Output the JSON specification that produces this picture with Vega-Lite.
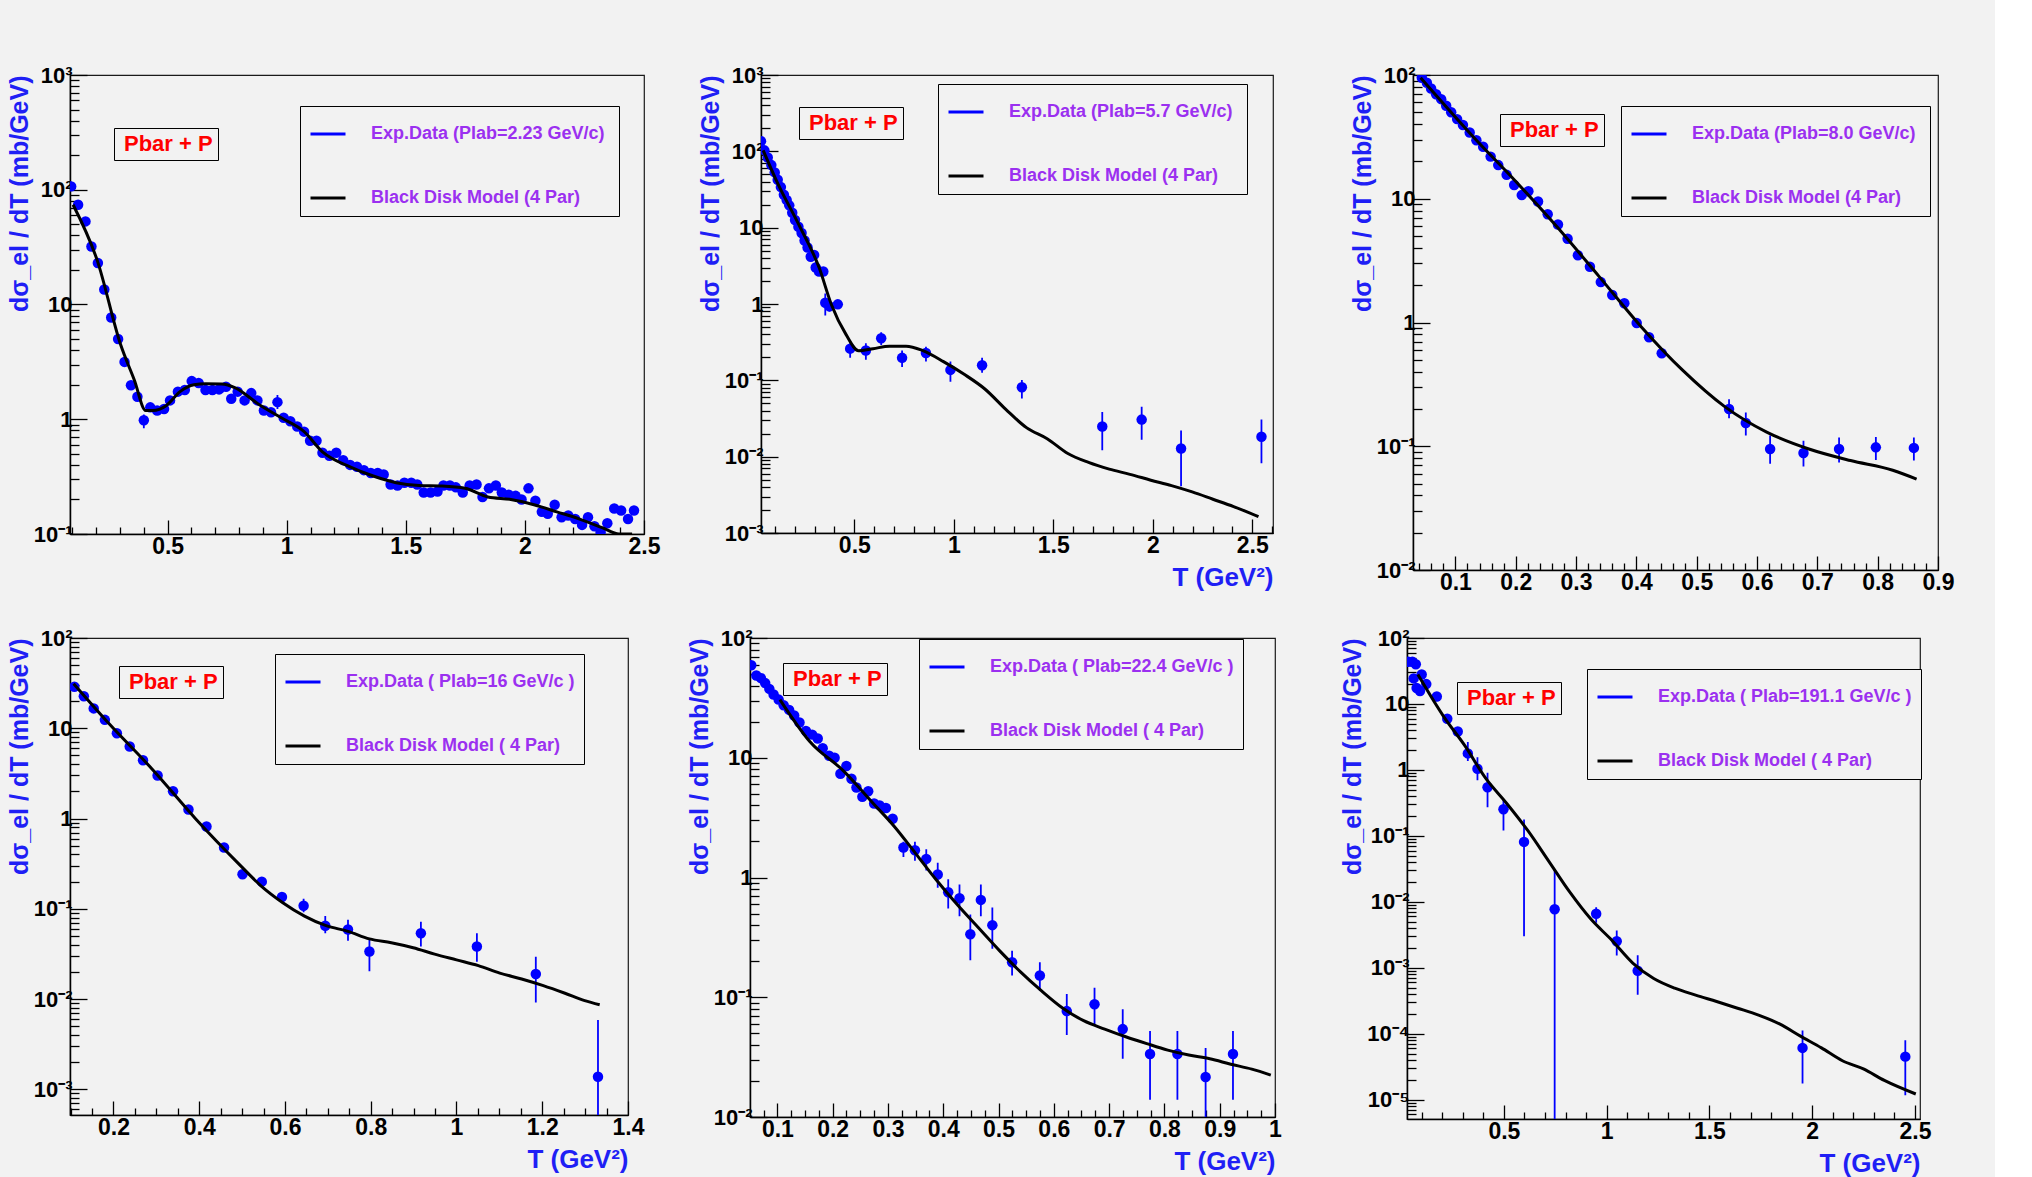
{
"$schema": "https://vega.github.io/schema/vega-lite/v6.json",
"background": "#f2f2f2",
"padding": {"left": 6, "top": 63, "right": 40, "bottom": 6},
"spacing": 24,
"resolve": {"scale": {"color": "independent", "strokeDash": "independent"}},
"datasets": {
"pts": [
{"p":1,"T":0.095,"v":107},{"p":1,"T":0.124,"v":74},{"p":1,"T":0.155,"v":53},{"p":1,"T":0.18,"v":32},{"p":1,"T":0.207,"v":23},{"p":1,"T":0.234,"v":13.5},{"p":1,"T":0.263,"v":7.7},{"p":1,"T":0.292,"v":5.0},{"p":1,"T":0.319,"v":3.16},{"p":1,"T":0.346,"v":1.98},{"p":1,"T":0.373,"v":1.57},{"p":1,"T":0.4,"v":0.98,"lo":0.835,"hi":1.1},{"p":1,"T":0.427,"v":1.27},{"p":1,"T":0.456,"v":1.19},{"p":1,"T":0.485,"v":1.23},{"p":1,"T":0.51,"v":1.46},{"p":1,"T":0.543,"v":1.74},{"p":1,"T":0.572,"v":1.8},{"p":1,"T":0.601,"v":2.15},{"p":1,"T":0.63,"v":2.07},{"p":1,"T":0.659,"v":1.8},{"p":1,"T":0.688,"v":1.8},{"p":1,"T":0.716,"v":1.82},{"p":1,"T":0.745,"v":1.92},{"p":1,"T":0.767,"v":1.51},{"p":1,"T":0.794,"v":1.74},{"p":1,"T":0.823,"v":1.46},{"p":1,"T":0.851,"v":1.69},{"p":1,"T":0.877,"v":1.46},{"p":1,"T":0.904,"v":1.19},{"p":1,"T":0.934,"v":1.15},{"p":1,"T":0.961,"v":1.41,"lo":1.23,"hi":1.63},{"p":1,"T":0.987,"v":1.03},{"p":1,"T":1.015,"v":0.96},{"p":1,"T":1.044,"v":0.865},{"p":1,"T":1.073,"v":0.78},{"p":1,"T":1.098,"v":0.65},{"p":1,"T":1.125,"v":0.65},{"p":1,"T":1.15,"v":0.51},{"p":1,"T":1.179,"v":0.48},{"p":1,"T":1.208,"v":0.51},{"p":1,"T":1.237,"v":0.44},{"p":1,"T":1.266,"v":0.4},{"p":1,"T":1.295,"v":0.385},{"p":1,"T":1.324,"v":0.36},{"p":1,"T":1.353,"v":0.34},{"p":1,"T":1.382,"v":0.34},{"p":1,"T":1.407,"v":0.33},{"p":1,"T":1.436,"v":0.27},{"p":1,"T":1.465,"v":0.265},{"p":1,"T":1.494,"v":0.28},{"p":1,"T":1.523,"v":0.28},{"p":1,"T":1.548,"v":0.27},{"p":1,"T":1.575,"v":0.23},{"p":1,"T":1.604,"v":0.23},{"p":1,"T":1.633,"v":0.235},{"p":1,"T":1.658,"v":0.265},{"p":1,"T":1.685,"v":0.265},{"p":1,"T":1.71,"v":0.255},{"p":1,"T":1.739,"v":0.23},{"p":1,"T":1.768,"v":0.265},{"p":1,"T":1.797,"v":0.27},{"p":1,"T":1.822,"v":0.21},{"p":1,"T":1.849,"v":0.25},{"p":1,"T":1.878,"v":0.265},{"p":1,"T":1.903,"v":0.23},{"p":1,"T":1.932,"v":0.22},{"p":1,"T":1.961,"v":0.215},{"p":1,"T":1.986,"v":0.2},{"p":1,"T":2.015,"v":0.25},{"p":1,"T":2.044,"v":0.195},{"p":1,"T":2.071,"v":0.156},{"p":1,"T":2.096,"v":0.15},{"p":1,"T":2.125,"v":0.18},{"p":1,"T":2.154,"v":0.14},{"p":1,"T":2.182,"v":0.145},{"p":1,"T":2.211,"v":0.135},{"p":1,"T":2.24,"v":0.12},{"p":1,"T":2.265,"v":0.14},{"p":1,"T":2.292,"v":0.117},{"p":1,"T":2.318,"v":0.104},{"p":1,"T":2.346,"v":0.124},{"p":1,"T":2.375,"v":0.167},{"p":1,"T":2.404,"v":0.16},{"p":1,"T":2.433,"v":0.135},{"p":1,"T":2.458,"v":0.16},
{"p":2,"T":0.031,"v":136},{"p":2,"T":0.048,"v":103},{"p":2,"T":0.065,"v":83},{"p":2,"T":0.083,"v":66},{"p":2,"T":0.1,"v":53},{"p":2,"T":0.115,"v":42.5},{"p":2,"T":0.131,"v":34},{"p":2,"T":0.146,"v":27},{"p":2,"T":0.16,"v":23},{"p":2,"T":0.173,"v":19.6},{"p":2,"T":0.188,"v":15.7},{"p":2,"T":0.202,"v":12.6},{"p":2,"T":0.219,"v":10.3},{"p":2,"T":0.235,"v":8.5},{"p":2,"T":0.25,"v":6.8},{"p":2,"T":0.265,"v":5.5},{"p":2,"T":0.281,"v":4.15},{"p":2,"T":0.298,"v":4.4},{"p":2,"T":0.306,"v":3.0,"lo":2.4,"hi":3.6},{"p":2,"T":0.323,"v":2.66},{"p":2,"T":0.344,"v":2.66},{"p":2,"T":0.354,"v":1.04,"lo":0.705,"hi":1.37},{"p":2,"T":0.375,"v":0.93,"lo":0.8,"hi":1.08},{"p":2,"T":0.417,"v":0.99},{"p":2,"T":0.479,"v":0.26,"lo":0.197,"hi":0.307},{"p":2,"T":0.558,"v":0.246,"lo":0.186,"hi":0.307},{"p":2,"T":0.635,"v":0.355,"lo":0.29,"hi":0.428},{"p":2,"T":0.74,"v":0.197,"lo":0.149,"hi":0.246},{"p":2,"T":0.86,"v":0.228,"lo":0.176,"hi":0.275},{"p":2,"T":0.983,"v":0.137,"lo":0.096,"hi":0.176},{"p":2,"T":1.142,"v":0.158,"lo":0.126,"hi":0.197},{"p":2,"T":1.342,"v":0.081,"lo":0.058,"hi":0.101},{"p":2,"T":1.746,"v":0.0248,"lo":0.0121,"hi":0.0386},{"p":2,"T":1.944,"v":0.0306,"lo":0.0166,"hi":0.045},{"p":2,"T":2.142,"v":0.0128,"lo":0.0041,"hi":0.022},{"p":2,"T":2.546,"v":0.0182,"lo":0.0082,"hi":0.0306},
{"p":3,"T":0.0443,"v":95},{"p":3,"T":0.0527,"v":86.7},{"p":3,"T":0.0597,"v":77.8},{"p":3,"T":0.068,"v":70},{"p":3,"T":0.0764,"v":63.8},{"p":3,"T":0.0847,"v":56.5},{"p":3,"T":0.093,"v":50},{"p":3,"T":0.1028,"v":44},{"p":3,"T":0.1125,"v":39.5},{"p":3,"T":0.1237,"v":34.3},{"p":3,"T":0.1348,"v":29.7},{"p":3,"T":0.146,"v":26.3},{"p":3,"T":0.1584,"v":21.9},{"p":3,"T":0.171,"v":18.7},{"p":3,"T":0.1849,"v":15.6},{"p":3,"T":0.1974,"v":12.9},{"p":3,"T":0.21,"v":10.7},{"p":3,"T":0.221,"v":11.5},{"p":3,"T":0.237,"v":9.5},{"p":3,"T":0.253,"v":7.5},{"p":3,"T":0.27,"v":6.2},{"p":3,"T":0.286,"v":4.75},{"p":3,"T":0.303,"v":3.49},{"p":3,"T":0.323,"v":2.82},{"p":3,"T":0.341,"v":2.12},{"p":3,"T":0.36,"v":1.67},{"p":3,"T":0.38,"v":1.43},{"p":3,"T":0.4005,"v":0.99},{"p":3,"T":0.421,"v":0.76},{"p":3,"T":0.442,"v":0.565},{"p":3,"T":0.5536,"v":0.2,"lo":0.168,"hi":0.24},{"p":3,"T":0.5814,"v":0.154,"lo":0.122,"hi":0.187},{"p":3,"T":0.6217,"v":0.095,"lo":0.0723,"hi":0.122},{"p":3,"T":0.677,"v":0.0883,"lo":0.0687,"hi":0.111},{"p":3,"T":0.736,"v":0.095,"lo":0.0738,"hi":0.1175},{"p":3,"T":0.797,"v":0.098,"lo":0.0776,"hi":0.119},{"p":3,"T":0.86,"v":0.097,"lo":0.0766,"hi":0.1175},
{"p":4,"T":0.1089,"v":28.8},{"p":4,"T":0.131,"v":22.6},{"p":4,"T":0.154,"v":16.6},{"p":4,"T":0.18,"v":12.4},{"p":4,"T":0.208,"v":8.8},{"p":4,"T":0.238,"v":6.27},{"p":4,"T":0.269,"v":4.42},{"p":4,"T":0.303,"v":3.0},{"p":4,"T":0.339,"v":2.01},{"p":4,"T":0.375,"v":1.26},{"p":4,"T":0.417,"v":0.815},{"p":4,"T":0.458,"v":0.477},{"p":4,"T":0.501,"v":0.242},{"p":4,"T":0.546,"v":0.2},{"p":4,"T":0.593,"v":0.135},{"p":4,"T":0.6435,"v":0.108,"lo":0.0916,"hi":0.129},{"p":4,"T":0.694,"v":0.065,"lo":0.0537,"hi":0.083},{"p":4,"T":0.747,"v":0.059,"lo":0.0443,"hi":0.0755},{"p":4,"T":0.797,"v":0.0337,"lo":0.0203,"hi":0.0465},{"p":4,"T":0.917,"v":0.0537,"lo":0.0382,"hi":0.072},{"p":4,"T":1.0476,"v":0.0382,"lo":0.026,"hi":0.0537},{"p":4,"T":1.185,"v":0.019,"lo":0.00916,"hi":0.0294},{"p":4,"T":1.33,"v":0.00138,"lo":0.0001,"hi":0.00586},
{"p":5,"T":0.0528,"v":59.3},{"p":5,"T":0.062,"v":48.6},{"p":5,"T":0.0703,"v":46.2},{"p":5,"T":0.078,"v":42},{"p":5,"T":0.0855,"v":37.6},{"p":5,"T":0.0932,"v":33.7},{"p":5,"T":0.1023,"v":30.6},{"p":5,"T":0.1114,"v":27.4},{"p":5,"T":0.1213,"v":25.1},{"p":5,"T":0.1304,"v":22.5},{"p":5,"T":0.14,"v":19.7},{"p":5,"T":0.1517,"v":16.7},{"p":5,"T":0.163,"v":15.6},{"p":5,"T":0.173,"v":14.5},{"p":5,"T":0.182,"v":12},{"p":5,"T":0.1936,"v":10.4},{"p":5,"T":0.2035,"v":10},{"p":5,"T":0.214,"v":7.36},{"p":5,"T":0.2248,"v":8.53},{"p":5,"T":0.234,"v":6.68},{"p":5,"T":0.243,"v":5.65},{"p":5,"T":0.2537,"v":4.73},{"p":5,"T":0.2643,"v":5.25},{"p":5,"T":0.275,"v":4.15},{"p":5,"T":0.285,"v":4},{"p":5,"T":0.2963,"v":3.8},{"p":5,"T":0.3085,"v":3.09},{"p":5,"T":0.328,"v":1.78,"lo":1.48,"hi":1.99},{"p":5,"T":0.3488,"v":1.69,"lo":1.38,"hi":1.99},{"p":5,"T":0.3693,"v":1.43,"lo":1.146,"hi":1.72},{"p":5,"T":0.39,"v":1.06,"lo":0.822,"hi":1.33},{"p":5,"T":0.409,"v":0.753,"lo":0.55,"hi":0.968},{"p":5,"T":0.4294,"v":0.67,"lo":0.474,"hi":0.873},{"p":5,"T":0.449,"v":0.336,"lo":0.204,"hi":0.492},{"p":5,"T":0.468,"v":0.65,"lo":0.474,"hi":0.873},{"p":5,"T":0.4888,"v":0.4,"lo":0.254,"hi":0.562},{"p":5,"T":0.5245,"v":0.196,"lo":0.152,"hi":0.245},{"p":5,"T":0.5747,"v":0.152,"lo":0.113,"hi":0.196},{"p":5,"T":0.6234,"v":0.0766,"lo":0.0485,"hi":0.1067},{"p":5,"T":0.6736,"v":0.0875,"lo":0.0575,"hi":0.12},{"p":5,"T":0.7246,"v":0.0542,"lo":0.0306,"hi":0.0794},{"p":5,"T":0.774,"v":0.0336,"lo":0.0139,"hi":0.0523},{"p":5,"T":0.8235,"v":0.0336,"lo":0.0139,"hi":0.0523},{"p":5,"T":0.8745,"v":0.0216,"lo":0.009,"hi":0.0376},{"p":5,"T":0.924,"v":0.0336,"lo":0.0139,"hi":0.0523},
{"p":6,"T":0.0347,"v":43.5},{"p":6,"T":0.0551,"v":43.5},{"p":6,"T":0.0714,"v":40},{"p":6,"T":0.061,"v":24.4},{"p":6,"T":0.0755,"v":17.5},{"p":6,"T":0.0918,"v":15.7},{"p":6,"T":0.1,"v":27.9},{"p":6,"T":0.1224,"v":20},{"p":6,"T":0.1735,"v":13,"lo":11,"hi":15},{"p":6,"T":0.2245,"v":5.96},{"p":6,"T":0.2755,"v":3.83},{"p":6,"T":0.3245,"v":1.78,"lo":1.36,"hi":2.66},{"p":6,"T":0.3714,"v":1.04,"lo":0.695,"hi":1.56},{"p":6,"T":0.4204,"v":0.546,"lo":0.271,"hi":0.908},{"p":6,"T":0.498,"v":0.254,"lo":0.121,"hi":0.355},{"p":6,"T":0.598,"v":0.081,"lo":0.003,"hi":0.177},{"p":6,"T":0.747,"v":0.0077,"lo":0.000001,"hi":0.0316},{"p":6,"T":0.949,"v":0.00658,"lo":0.00482,"hi":0.00826},{"p":6,"T":1.049,"v":0.00253,"lo":0.00154,"hi":0.00369},{"p":6,"T":1.151,"v":0.0009,"lo":0.00039,"hi":0.00155},{"p":6,"T":1.953,"v":0.000061,"lo":0.0000176,"hi":0.000112},{"p":6,"T":2.453,"v":0.000045,"lo":0.0000117,"hi":0.00008}
],
"mod": [
{"p":1,"T":0.103,"v":74},{"p":1,"T":0.205,"v":24},{"p":1,"T":0.302,"v":4.5},{"p":1,"T":0.36,"v":2.2},{"p":1,"T":0.408,"v":1.19},{"p":1,"T":0.437,"v":1.19},{"p":1,"T":0.495,"v":1.32},{"p":1,"T":0.552,"v":1.74},{"p":1,"T":0.61,"v":2.0},{"p":1,"T":0.66,"v":2.04},{"p":1,"T":0.726,"v":2.03},{"p":1,"T":0.784,"v":1.88},{"p":1,"T":0.88,"v":1.36},{"p":1,"T":0.977,"v":1.03},{"p":1,"T":1.073,"v":0.78},{"p":1,"T":1.15,"v":0.52},{"p":1,"T":1.266,"v":0.385},{"p":1,"T":1.363,"v":0.32},{"p":1,"T":1.459,"v":0.28},{"p":1,"T":1.556,"v":0.265},{"p":1,"T":1.652,"v":0.262},{"p":1,"T":1.749,"v":0.25},{"p":1,"T":1.845,"v":0.21},{"p":1,"T":1.941,"v":0.2},{"p":1,"T":2.038,"v":0.18},{"p":1,"T":2.134,"v":0.156},{"p":1,"T":2.23,"v":0.135},{"p":1,"T":2.327,"v":0.113},{"p":1,"T":2.395,"v":0.1},{"p":1,"T":2.45,"v":0.1},
{"p":2,"T":0.042,"v":103},{"p":2,"T":0.115,"v":38},{"p":2,"T":0.219,"v":11.2},{"p":2,"T":0.323,"v":3.0},{"p":2,"T":0.385,"v":0.98},{"p":2,"T":0.458,"v":0.4},{"p":2,"T":0.521,"v":0.245},{"p":2,"T":0.594,"v":0.26},{"p":2,"T":0.677,"v":0.28},{"p":2,"T":0.76,"v":0.28},{"p":2,"T":0.844,"v":0.245},{"p":2,"T":0.948,"v":0.176},{"p":2,"T":1.052,"v":0.12},{"p":2,"T":1.156,"v":0.077},{"p":2,"T":1.26,"v":0.042},{"p":2,"T":1.365,"v":0.024},{"p":2,"T":1.469,"v":0.0172},{"p":2,"T":1.573,"v":0.011},{"p":2,"T":1.677,"v":0.0084},{"p":2,"T":1.781,"v":0.00686},{"p":2,"T":1.885,"v":0.00587},{"p":2,"T":1.99,"v":0.00492},{"p":2,"T":2.094,"v":0.00417},{"p":2,"T":2.198,"v":0.00345},{"p":2,"T":2.302,"v":0.00277},{"p":2,"T":2.406,"v":0.00222},{"p":2,"T":2.531,"v":0.00164},
{"p":3,"T":0.0423,"v":95},{"p":3,"T":0.129,"v":31.9},{"p":3,"T":0.199,"v":14},{"p":3,"T":0.268,"v":5.96},{"p":3,"T":0.338,"v":2.36},{"p":3,"T":0.4075,"v":0.93},{"p":3,"T":0.477,"v":0.41},{"p":3,"T":0.547,"v":0.208},{"p":3,"T":0.616,"v":0.13},{"p":3,"T":0.686,"v":0.095},{"p":3,"T":0.755,"v":0.0766},{"p":3,"T":0.825,"v":0.064},{"p":3,"T":0.8645,"v":0.0543},
{"p":4,"T":0.107,"v":31.2},{"p":4,"T":0.19,"v":11.2},{"p":4,"T":0.291,"v":3.5},{"p":4,"T":0.392,"v":0.99},{"p":4,"T":0.494,"v":0.309},{"p":4,"T":0.544,"v":0.18},{"p":4,"T":0.595,"v":0.117},{"p":4,"T":0.6456,"v":0.083},{"p":4,"T":0.696,"v":0.065},{"p":4,"T":0.747,"v":0.0563},{"p":4,"T":0.797,"v":0.0464},{"p":4,"T":0.848,"v":0.042},{"p":4,"T":0.899,"v":0.037},{"p":4,"T":0.949,"v":0.0315},{"p":4,"T":1.0,"v":0.0272},{"p":4,"T":1.051,"v":0.0235},{"p":4,"T":1.101,"v":0.0194},{"p":4,"T":1.152,"v":0.0167},{"p":4,"T":1.2025,"v":0.0141},{"p":4,"T":1.253,"v":0.0116},{"p":4,"T":1.299,"v":0.0096},{"p":4,"T":1.334,"v":0.00865},
{"p":5,"T":0.1046,"v":30.6},{"p":5,"T":0.159,"v":13.6},{"p":5,"T":0.22,"v":7.74},{"p":5,"T":0.2735,"v":4.15},{"p":5,"T":0.3115,"v":2.67},{"p":5,"T":0.3495,"v":1.6},{"p":5,"T":0.3876,"v":0.953},{"p":5,"T":0.4256,"v":0.591},{"p":5,"T":0.4637,"v":0.38},{"p":5,"T":0.5017,"v":0.245},{"p":5,"T":0.5397,"v":0.163},{"p":5,"T":0.5778,"v":0.113},{"p":5,"T":0.6158,"v":0.0813},{"p":5,"T":0.6539,"v":0.0637},{"p":5,"T":0.692,"v":0.0542},{"p":5,"T":0.73,"v":0.0468},{"p":5,"T":0.768,"v":0.041},{"p":5,"T":0.806,"v":0.0362},{"p":5,"T":0.844,"v":0.0329},{"p":5,"T":0.882,"v":0.0306},{"p":5,"T":0.92,"v":0.0276},{"p":5,"T":0.958,"v":0.0251},{"p":5,"T":0.9924,"v":0.0224},
{"p":6,"T":0.0816,"v":27.9},{"p":6,"T":0.208,"v":6.37},{"p":6,"T":0.31,"v":2.33},{"p":6,"T":0.412,"v":0.743},{"p":6,"T":0.514,"v":0.31},{"p":6,"T":0.616,"v":0.121},{"p":6,"T":0.718,"v":0.0414},{"p":6,"T":0.82,"v":0.0141},{"p":6,"T":0.922,"v":0.00552},{"p":6,"T":1.024,"v":0.00264},{"p":6,"T":1.127,"v":0.00118},{"p":6,"T":1.229,"v":0.000689},{"p":6,"T":1.331,"v":0.000492},{"p":6,"T":1.433,"v":0.000386},{"p":6,"T":1.535,"v":0.000308},{"p":6,"T":1.637,"v":0.000244},{"p":6,"T":1.739,"v":0.000192},{"p":6,"T":1.841,"v":0.000141},{"p":6,"T":1.943,"v":0.000092},{"p":6,"T":2.045,"v":0.000061},{"p":6,"T":2.147,"v":0.000039},{"p":6,"T":2.249,"v":0.0000293},{"p":6,"T":2.351,"v":0.0000196},{"p":6,"T":2.504,"v":0.0000122}
]
},
"vconcat": [
{"spacing": 36, "resolve": {"scale": {"color": "independent", "strokeDash": "independent"}}, "hconcat": [
 {"width": 574, "height": 459,
  "encoding": {
   "x": {"field": "T", "type": "quantitative", "scale": {"domain": [0.09, 2.5], "nice": false, "zero": false},
     "axis": {"title": null, "format": "~g", "values": [0.1,0.2,0.3,0.4,0.5,0.6,0.7,0.8,0.9,1,1.1,1.2,1.3,1.4,1.5,1.6,1.7,1.8,1.9,2,2.1,2.2,2.3,2.4,2.5],
       "labelExpr": "abs(datum.value*2-round(datum.value*2))<0.001 ? datum.label : ''",
       "tickSize": {"condition": {"test": "abs(datum.value*2-round(datum.value*2))<0.001", "value": -14}, "value": -7}}},
   "y": {"field": "v", "type": "quantitative", "scale": {"type": "log", "domain": [0.1, 1000], "nice": false},
     "axis": {"title": "dσ_el / dT (mb/GeV)", "values": [0.1,0.2,0.3,0.4,0.5,0.6,0.7,0.8,0.9,1,2,3,4,5,6,7,8,9,10,20,30,40,50,60,70,80,90,100,200,300,400,500,600,700,800,900,1000],
       "labelExpr": "abs(log(datum.value)/LN10-round(log(datum.value)/LN10))>0.01 ? '' : round(log(datum.value)/LN10)==3 ? '10³' : round(log(datum.value)/LN10)==2 ? '10²' : round(log(datum.value)/LN10)==1 ? '10' : round(log(datum.value)/LN10)==0 ? '1' : round(log(datum.value)/LN10)==-1 ? '10⁻¹' : round(log(datum.value)/LN10)==-2 ? '10⁻²' : round(log(datum.value)/LN10)==-3 ? '10⁻³' : round(log(datum.value)/LN10)==-4 ? '10⁻⁴' : '10⁻⁵'",
       "tickSize": {"condition": {"test": "abs(log(datum.value)/LN10-round(log(datum.value)/LN10))<0.01", "value": -17}, "value": -9}}}
  },
  "layer": [
   {"data": {"name": "pts"}, "transform": [{"filter": "datum.p == 1 && isValid(datum.lo)"}],
    "mark": {"type": "rule", "color": "#0000ff", "strokeWidth": 1.8, "clip": true},
    "encoding": {"y": {"field": "lo", "type": "quantitative", "scale": {"type": "log", "domain": [0.1, 1000], "nice": false}}, "y2": {"field": "hi"},
     "strokeDash": {"datum": "Pbar + P", "type": "nominal", "scale": {"domain": ["Pbar + P"], "range": [[1, 0]]},
      "legend": {"orient": "none", "legendX": 44, "legendY": 53, "title": null, "padding": 5, "symbolSize": 1, "symbolOpacity": 0, "labelOffset": -17, "labelFontSize": 22, "labelColor": "#ff0000"}}}},
   {"data": {"name": "pts"}, "transform": [{"filter": "datum.p == 1"}],
    "mark": {"type": "point", "filled": true, "size": 110, "opacity": 1, "color": "#0000ff", "clip": true}},
   {"data": {"name": "mod"}, "transform": [{"filter": "datum.p == 1"}],
    "mark": {"type": "line", "strokeWidth": 3, "interpolate": "monotone", "clip": true},
    "encoding": {"color": {"datum": "Black Disk Model (4 Par)", "type": "nominal", "scale": {"domain": ["Exp.Data  (Plab=2.23 GeV/c)", "Black Disk Model (4 Par)"], "range": ["#0000ff", "#000000"]},
     "legend": {"orient": "none", "legendX": 230, "legendY": 31, "title": null}}}}
  ]},
 {"spacing": 75, "resolve": {"scale": {"color": "independent", "strokeDash": "independent"}}, "hconcat": [
 {"width": 512, "height": 458,
  "encoding": {
   "x": {"field": "T", "type": "quantitative", "scale": {"domain": [0.031, 2.604], "nice": false, "zero": false},
     "axis": {"title": "T (GeV²)", "format": "~g", "values": [0.1,0.2,0.3,0.4,0.5,0.6,0.7,0.8,0.9,1,1.1,1.2,1.3,1.4,1.5,1.6,1.7,1.8,1.9,2,2.1,2.2,2.3,2.4,2.5,2.6],
       "labelExpr": "abs(datum.value*2-round(datum.value*2))<0.001 ? datum.label : ''",
       "tickSize": {"condition": {"test": "abs(datum.value*2-round(datum.value*2))<0.001", "value": -14}, "value": -7}}},
   "y": {"field": "v", "type": "quantitative", "scale": {"type": "log", "domain": [0.001, 1000], "nice": false},
     "axis": {"title": "dσ_el / dT (mb/GeV)", "values": [0.001,0.002,0.003,0.004,0.005,0.006,0.007,0.008,0.009,0.01,0.02,0.03,0.04,0.05,0.06,0.07,0.08,0.09,0.1,0.2,0.3,0.4,0.5,0.6,0.7,0.8,0.9,1,2,3,4,5,6,7,8,9,10,20,30,40,50,60,70,80,90,100,200,300,400,500,600,700,800,900,1000],
       "labelExpr": "abs(log(datum.value)/LN10-round(log(datum.value)/LN10))>0.01 ? '' : round(log(datum.value)/LN10)==3 ? '10³' : round(log(datum.value)/LN10)==2 ? '10²' : round(log(datum.value)/LN10)==1 ? '10' : round(log(datum.value)/LN10)==0 ? '1' : round(log(datum.value)/LN10)==-1 ? '10⁻¹' : round(log(datum.value)/LN10)==-2 ? '10⁻²' : round(log(datum.value)/LN10)==-3 ? '10⁻³' : round(log(datum.value)/LN10)==-4 ? '10⁻⁴' : '10⁻⁵'",
       "tickSize": {"condition": {"test": "abs(log(datum.value)/LN10-round(log(datum.value)/LN10))<0.01", "value": -17}, "value": -9}}}
  },
  "layer": [
   {"data": {"name": "pts"}, "transform": [{"filter": "datum.p == 2 && isValid(datum.lo)"}],
    "mark": {"type": "rule", "color": "#0000ff", "strokeWidth": 1.8, "clip": true},
    "encoding": {"y": {"field": "lo", "type": "quantitative", "scale": {"type": "log", "domain": [0.001, 1000], "nice": false}}, "y2": {"field": "hi"},
     "strokeDash": {"datum": "Pbar + P", "type": "nominal", "scale": {"domain": ["Pbar + P"], "range": [[1, 0]]},
      "legend": {"orient": "none", "legendX": 38, "legendY": 32, "title": null, "padding": 5, "symbolSize": 1, "symbolOpacity": 0, "labelOffset": -17, "labelFontSize": 22, "labelColor": "#ff0000"}}}},
   {"data": {"name": "pts"}, "transform": [{"filter": "datum.p == 2"}],
    "mark": {"type": "point", "filled": true, "size": 110, "opacity": 1, "color": "#0000ff", "clip": true}},
   {"data": {"name": "mod"}, "transform": [{"filter": "datum.p == 2"}],
    "mark": {"type": "line", "strokeWidth": 3, "interpolate": "monotone", "clip": true},
    "encoding": {"color": {"datum": "Black Disk Model (4 Par)", "type": "nominal", "scale": {"domain": ["Exp.Data  (Plab=5.7 GeV/c)", "Black Disk Model (4 Par)"], "range": ["#0000ff", "#000000"]},
     "legend": {"orient": "none", "legendX": 177, "legendY": 9, "title": null}}}}
  ]},
 {"width": 525, "height": 495,
  "encoding": {
   "x": {"field": "T", "type": "quantitative", "scale": {"domain": [0.0297, 0.9], "nice": false, "zero": false},
     "axis": {"title": null, "format": "~g", "values": [0.04,0.06,0.08,0.1,0.12,0.14,0.16,0.18,0.2,0.22,0.24,0.26,0.28,0.3,0.32,0.34,0.36,0.38,0.4,0.42,0.44,0.46,0.48,0.5,0.52,0.54,0.56,0.58,0.6,0.62,0.64,0.66,0.68,0.7,0.72,0.74,0.76,0.78,0.8,0.82,0.84,0.86,0.88,0.9],
       "labelExpr": "abs(datum.value*10-round(datum.value*10))<0.001 ? datum.label : ''",
       "tickSize": {"condition": {"test": "abs(datum.value*10-round(datum.value*10))<0.001", "value": -14}, "value": -7}}},
   "y": {"field": "v", "type": "quantitative", "scale": {"type": "log", "domain": [0.01, 100], "nice": false},
     "axis": {"title": "dσ_el / dT (mb/GeV)", "values": [0.01,0.02,0.03,0.04,0.05,0.06,0.07,0.08,0.09,0.1,0.2,0.3,0.4,0.5,0.6,0.7,0.8,0.9,1,2,3,4,5,6,7,8,9,10,20,30,40,50,60,70,80,90,100],
       "labelExpr": "abs(log(datum.value)/LN10-round(log(datum.value)/LN10))>0.01 ? '' : round(log(datum.value)/LN10)==3 ? '10³' : round(log(datum.value)/LN10)==2 ? '10²' : round(log(datum.value)/LN10)==1 ? '10' : round(log(datum.value)/LN10)==0 ? '1' : round(log(datum.value)/LN10)==-1 ? '10⁻¹' : round(log(datum.value)/LN10)==-2 ? '10⁻²' : round(log(datum.value)/LN10)==-3 ? '10⁻³' : round(log(datum.value)/LN10)==-4 ? '10⁻⁴' : '10⁻⁵'",
       "tickSize": {"condition": {"test": "abs(log(datum.value)/LN10-round(log(datum.value)/LN10))<0.01", "value": -17}, "value": -9}}}
  },
  "layer": [
   {"data": {"name": "pts"}, "transform": [{"filter": "datum.p == 3 && isValid(datum.lo)"}],
    "mark": {"type": "rule", "color": "#0000ff", "strokeWidth": 1.8, "clip": true},
    "encoding": {"y": {"field": "lo", "type": "quantitative", "scale": {"type": "log", "domain": [0.01, 100], "nice": false}}, "y2": {"field": "hi"},
     "strokeDash": {"datum": "Pbar + P", "type": "nominal", "scale": {"domain": ["Pbar + P"], "range": [[1, 0]]},
      "legend": {"orient": "none", "legendX": 87, "legendY": 39, "title": null, "padding": 5, "symbolSize": 1, "symbolOpacity": 0, "labelOffset": -17, "labelFontSize": 22, "labelColor": "#ff0000"}}}},
   {"data": {"name": "pts"}, "transform": [{"filter": "datum.p == 3"}],
    "mark": {"type": "point", "filled": true, "size": 110, "opacity": 1, "color": "#0000ff", "clip": true}},
   {"data": {"name": "mod"}, "transform": [{"filter": "datum.p == 3"}],
    "mark": {"type": "line", "strokeWidth": 3, "interpolate": "monotone", "clip": true},
    "encoding": {"color": {"datum": "Black Disk Model (4 Par)", "type": "nominal", "scale": {"domain": ["Exp.Data  (Plab=8.0 GeV/c)", "Black Disk Model (4 Par)"], "range": ["#0000ff", "#000000"]},
     "legend": {"orient": "none", "legendX": 208, "legendY": 31, "title": null}}}}
  ]}
 ]}
]},
{"spacing": 41, "resolve": {"scale": {"color": "independent", "strokeDash": "independent"}}, "hconcat": [
 {"width": 558, "height": 477,
  "encoding": {
   "x": {"field": "T", "type": "quantitative", "scale": {"domain": [0.0987, 1.4], "nice": false, "zero": false},
     "axis": {"title": "T (GeV²)", "format": "~g", "values": [0.1,0.15,0.2,0.25,0.3,0.35,0.4,0.45,0.5,0.55,0.6,0.65,0.7,0.75,0.8,0.85,0.9,0.95,1,1.05,1.1,1.15,1.2,1.25,1.3,1.35,1.4],
       "labelExpr": "abs(datum.value*5-round(datum.value*5))<0.001 ? datum.label : ''",
       "tickSize": {"condition": {"test": "abs(datum.value*5-round(datum.value*5))<0.001", "value": -14}, "value": -7}}},
   "y": {"field": "v", "type": "quantitative", "scale": {"type": "log", "domain": [0.00052, 100], "nice": false},
     "axis": {"title": "dσ_el / dT (mb/GeV)", "values": [0.0006,0.0007,0.0008,0.0009,0.001,0.002,0.003,0.004,0.005,0.006,0.007,0.008,0.009,0.01,0.02,0.03,0.04,0.05,0.06,0.07,0.08,0.09,0.1,0.2,0.3,0.4,0.5,0.6,0.7,0.8,0.9,1,2,3,4,5,6,7,8,9,10,20,30,40,50,60,70,80,90,100],
       "labelExpr": "abs(log(datum.value)/LN10-round(log(datum.value)/LN10))>0.01 ? '' : round(log(datum.value)/LN10)==3 ? '10³' : round(log(datum.value)/LN10)==2 ? '10²' : round(log(datum.value)/LN10)==1 ? '10' : round(log(datum.value)/LN10)==0 ? '1' : round(log(datum.value)/LN10)==-1 ? '10⁻¹' : round(log(datum.value)/LN10)==-2 ? '10⁻²' : round(log(datum.value)/LN10)==-3 ? '10⁻³' : round(log(datum.value)/LN10)==-4 ? '10⁻⁴' : '10⁻⁵'",
       "tickSize": {"condition": {"test": "abs(log(datum.value)/LN10-round(log(datum.value)/LN10))<0.01", "value": -17}, "value": -9}}}
  },
  "layer": [
   {"data": {"name": "pts"}, "transform": [{"filter": "datum.p == 4 && isValid(datum.lo)"}],
    "mark": {"type": "rule", "color": "#0000ff", "strokeWidth": 1.8, "clip": true},
    "encoding": {"y": {"field": "lo", "type": "quantitative", "scale": {"type": "log", "domain": [0.00052, 100], "nice": false}}, "y2": {"field": "hi"},
     "strokeDash": {"datum": "Pbar + P", "type": "nominal", "scale": {"domain": ["Pbar + P"], "range": [[1, 0]]},
      "legend": {"orient": "none", "legendX": 49, "legendY": 28, "title": null, "padding": 5, "symbolSize": 1, "symbolOpacity": 0, "labelOffset": -17, "labelFontSize": 22, "labelColor": "#ff0000"}}}},
   {"data": {"name": "pts"}, "transform": [{"filter": "datum.p == 4"}],
    "mark": {"type": "point", "filled": true, "size": 110, "opacity": 1, "color": "#0000ff", "clip": true}},
   {"data": {"name": "mod"}, "transform": [{"filter": "datum.p == 4"}],
    "mark": {"type": "line", "strokeWidth": 3, "interpolate": "monotone", "clip": true},
    "encoding": {"color": {"datum": "Black Disk Model ( 4 Par)", "type": "nominal", "scale": {"domain": ["Exp.Data ( Plab=16 GeV/c )", "Black Disk Model ( 4 Par)"], "range": ["#0000ff", "#000000"]},
     "legend": {"orient": "none", "legendX": 205, "legendY": 16, "title": null}}}}
  ]},
 {"spacing": 58, "resolve": {"scale": {"color": "independent", "strokeDash": "independent"}}, "hconcat": [
 {"width": 525, "height": 479,
  "encoding": {
   "x": {"field": "T", "type": "quantitative", "scale": {"domain": [0.0505, 1.0], "nice": false, "zero": false},
     "axis": {"title": "T (GeV²)", "format": "~g", "values": [0.075,0.1,0.125,0.15,0.175,0.2,0.225,0.25,0.275,0.3,0.325,0.35,0.375,0.4,0.425,0.45,0.475,0.5,0.525,0.55,0.575,0.6,0.625,0.65,0.675,0.7,0.725,0.75,0.775,0.8,0.825,0.85,0.875,0.9,0.925,0.95,0.975,1],
       "labelExpr": "abs(datum.value*10-round(datum.value*10))<0.001 ? datum.label : ''",
       "tickSize": {"condition": {"test": "abs(datum.value*10-round(datum.value*10))<0.001", "value": -14}, "value": -7}}},
   "y": {"field": "v", "type": "quantitative", "scale": {"type": "log", "domain": [0.01, 100], "nice": false},
     "axis": {"title": "dσ_el / dT (mb/GeV)", "values": [0.01,0.02,0.03,0.04,0.05,0.06,0.07,0.08,0.09,0.1,0.2,0.3,0.4,0.5,0.6,0.7,0.8,0.9,1,2,3,4,5,6,7,8,9,10,20,30,40,50,60,70,80,90,100],
       "labelExpr": "abs(log(datum.value)/LN10-round(log(datum.value)/LN10))>0.01 ? '' : round(log(datum.value)/LN10)==3 ? '10³' : round(log(datum.value)/LN10)==2 ? '10²' : round(log(datum.value)/LN10)==1 ? '10' : round(log(datum.value)/LN10)==0 ? '1' : round(log(datum.value)/LN10)==-1 ? '10⁻¹' : round(log(datum.value)/LN10)==-2 ? '10⁻²' : round(log(datum.value)/LN10)==-3 ? '10⁻³' : round(log(datum.value)/LN10)==-4 ? '10⁻⁴' : '10⁻⁵'",
       "tickSize": {"condition": {"test": "abs(log(datum.value)/LN10-round(log(datum.value)/LN10))<0.01", "value": -17}, "value": -9}}}
  },
  "layer": [
   {"data": {"name": "pts"}, "transform": [{"filter": "datum.p == 5 && isValid(datum.lo)"}],
    "mark": {"type": "rule", "color": "#0000ff", "strokeWidth": 1.8, "clip": true},
    "encoding": {"y": {"field": "lo", "type": "quantitative", "scale": {"type": "log", "domain": [0.01, 100], "nice": false}}, "y2": {"field": "hi"},
     "strokeDash": {"datum": "Pbar + P", "type": "nominal", "scale": {"domain": ["Pbar + P"], "range": [[1, 0]]},
      "legend": {"orient": "none", "legendX": 33, "legendY": 25, "title": null, "padding": 5, "symbolSize": 1, "symbolOpacity": 0, "labelOffset": -17, "labelFontSize": 22, "labelColor": "#ff0000"}}}},
   {"data": {"name": "pts"}, "transform": [{"filter": "datum.p == 5"}],
    "mark": {"type": "point", "filled": true, "size": 110, "opacity": 1, "color": "#0000ff", "clip": true}},
   {"data": {"name": "mod"}, "transform": [{"filter": "datum.p == 5"}],
    "mark": {"type": "line", "strokeWidth": 3, "interpolate": "monotone", "clip": true},
    "encoding": {"color": {"datum": "Black Disk Model ( 4 Par)", "type": "nominal", "scale": {"domain": ["Exp.Data ( Plab=22.4 GeV/c )", "Black Disk Model ( 4 Par)"], "range": ["#0000ff", "#000000"]},
     "legend": {"orient": "none", "legendX": 169, "legendY": 1, "title": null}}}}
  ]},
 {"width": 513, "height": 481,
  "encoding": {
   "x": {"field": "T", "type": "quantitative", "scale": {"domain": [0.0286, 2.5245], "nice": false, "zero": false},
     "axis": {"title": "T (GeV²)", "format": "~g", "values": [0.1,0.2,0.3,0.4,0.5,0.6,0.7,0.8,0.9,1,1.1,1.2,1.3,1.4,1.5,1.6,1.7,1.8,1.9,2,2.1,2.2,2.3,2.4,2.5],
       "labelExpr": "abs(datum.value*2-round(datum.value*2))<0.001 ? datum.label : ''",
       "tickSize": {"condition": {"test": "abs(datum.value*2-round(datum.value*2))<0.001", "value": -14}, "value": -7}}},
   "y": {"field": "v", "type": "quantitative", "scale": {"type": "log", "domain": [0.0000051, 100], "nice": false},
     "axis": {"title": "dσ_el / dT (mb/GeV)", "values": [0.000006,0.000007,0.000008,0.000009,0.00001,0.00002,0.00003,0.00004,0.00005,0.00006,0.00007,0.00008,0.00009,0.0001,0.0002,0.0003,0.0004,0.0005,0.0006,0.0007,0.0008,0.0009,0.001,0.002,0.003,0.004,0.005,0.006,0.007,0.008,0.009,0.01,0.02,0.03,0.04,0.05,0.06,0.07,0.08,0.09,0.1,0.2,0.3,0.4,0.5,0.6,0.7,0.8,0.9,1,2,3,4,5,6,7,8,9,10,20,30,40,50,60,70,80,90,100],
       "labelExpr": "abs(log(datum.value)/LN10-round(log(datum.value)/LN10))>0.01 ? '' : round(log(datum.value)/LN10)==3 ? '10³' : round(log(datum.value)/LN10)==2 ? '10²' : round(log(datum.value)/LN10)==1 ? '10' : round(log(datum.value)/LN10)==0 ? '1' : round(log(datum.value)/LN10)==-1 ? '10⁻¹' : round(log(datum.value)/LN10)==-2 ? '10⁻²' : round(log(datum.value)/LN10)==-3 ? '10⁻³' : round(log(datum.value)/LN10)==-4 ? '10⁻⁴' : '10⁻⁵'",
       "tickSize": {"condition": {"test": "abs(log(datum.value)/LN10-round(log(datum.value)/LN10))<0.01", "value": -17}, "value": -9}}}
  },
  "layer": [
   {"data": {"name": "pts"}, "transform": [{"filter": "datum.p == 6 && isValid(datum.lo)"}],
    "mark": {"type": "rule", "color": "#0000ff", "strokeWidth": 1.8, "clip": true},
    "encoding": {"y": {"field": "lo", "type": "quantitative", "scale": {"type": "log", "domain": [0.0000051, 100], "nice": false}}, "y2": {"field": "hi"},
     "strokeDash": {"datum": "Pbar + P", "type": "nominal", "scale": {"domain": ["Pbar + P"], "range": [[1, 0]]},
      "legend": {"orient": "none", "legendX": 50, "legendY": 44, "title": null, "padding": 5, "symbolSize": 1, "symbolOpacity": 0, "labelOffset": -17, "labelFontSize": 22, "labelColor": "#ff0000"}}}},
   {"data": {"name": "pts"}, "transform": [{"filter": "datum.p == 6"}],
    "mark": {"type": "point", "filled": true, "size": 110, "opacity": 1, "color": "#0000ff", "clip": true}},
   {"data": {"name": "mod"}, "transform": [{"filter": "datum.p == 6"}],
    "mark": {"type": "line", "strokeWidth": 3, "interpolate": "monotone", "clip": true},
    "encoding": {"color": {"datum": "Black Disk Model ( 4 Par)", "type": "nominal", "scale": {"domain": ["Exp.Data ( Plab=191.1 GeV/c )", "Black Disk Model ( 4 Par)"], "range": ["#0000ff", "#000000"]},
     "legend": {"orient": "none", "legendX": 180, "legendY": 31, "title": null}}}}
  ]}
 ]}
]}
],
"config": {
 "view": {"stroke": "#1a1a1a", "strokeWidth": 1.2},
 "axis": {"grid": false, "labelOverlap": false, "labelFont": "Liberation Sans Narrow, Liberation Sans", "labelFontWeight": "bold", "labelColor": "#000000", "domainColor": "#000000", "domainWidth": 1.5, "tickColor": "#000000", "tickWidth": 1.3, "titleColor": "#1f1ff5", "titleFontWeight": "bold"},
 "axisX": {"labelFontSize": 23, "labelPadding": 15, "labelFlush": false, "titleFont": "Liberation Sans Narrow, Liberation Sans", "titleFontSize": 26, "titleAnchor": "end", "titlePadding": 0},
 "axisY": {"labelFontSize": 22, "labelPadding": 15, "titleFont": "Liberation Sans", "titleFontSize": 25, "titleAnchor": "end", "titlePadding": 1},
 "legend": {"labelFont": "Liberation Sans Narrow, Liberation Sans", "labelFontWeight": "bold", "labelFontSize": 18, "labelColor": "#9b30f0", "labelLimit": 600, "strokeColor": "#000000", "fillColor": "#f2f2f2", "padding": 9, "rowPadding": 36, "symbolSize": 1225, "symbolStrokeWidth": 3, "symbolOpacity": 1, "labelOffset": 24}
}
}
